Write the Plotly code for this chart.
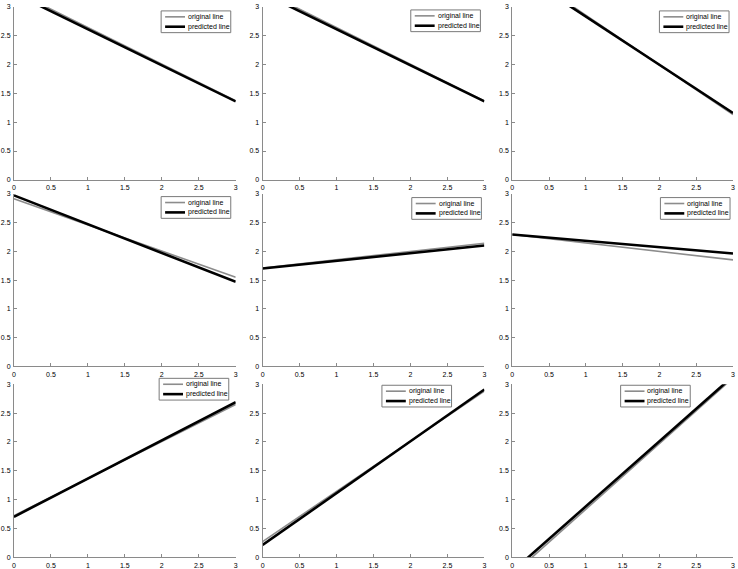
import plotly.graph_objects as go
from plotly.subplots import make_subplots

# ---- data (line end values at x = 0 and x = 3) ----
x_ends = [0, 3]
orig_y0 = [3.28, 3.28, 3.72, 2.91, 1.71, 2.29, 0.72, 0.27, -0.31]
orig_y3 = [1.37, 1.37, 1.13, 1.55, 2.14, 1.85, 2.65, 2.88, 3.11]
pred_y0 = [3.24, 3.24, 3.67, 2.97, 1.70, 2.29, 0.70, 0.21, -0.25]
pred_y3 = [1.36, 1.36, 1.16, 1.47, 2.10, 1.96, 2.69, 2.91, 3.14]
tick_vals = [0, 0.5, 1, 1.5, 2, 2.5, 3]
tick_text = ["0", "0.5", "1", "1.5", "2", "2.5", "3"]
legend_labels = ["original line", "predicted line"]

W, H = 738, 569
col_px = [(12, 235), (262, 485), (513, 735)]
row_px = [(3, 178), (192, 367), (385, 560)]
# legend box (left, top) in pixels for each panel
legend_px = [(160, 7), (411, 6), (661, 7),
             (160, 195), (412, 196), (662, 196),
             (158, 379), (382, 386), (622, 386)]
LW, LH = 70, 22

FONT = "Liberation Sans, Arial, sans-serif"
fig = make_subplots(rows=3, cols=3)

shapes, annots = [], []
for i in range(9):
    r, c = divmod(i, 3)
    fig.add_trace(go.Scatter(x=x_ends, y=[orig_y0[i], orig_y3[i]], mode="lines",
                             line=dict(color="#8c8c8c", width=1.6),
                             name=legend_labels[0], showlegend=False),
                  row=r + 1, col=c + 1)
    fig.add_trace(go.Scatter(x=x_ends, y=[pred_y0[i], pred_y3[i]], mode="lines",
                             line=dict(color="#000000", width=2.6),
                             name=legend_labels[1], showlegend=False),
                  row=r + 1, col=c + 1)
    n = "" if i == 0 else str(i + 1)
    x0, x1 = col_px[c]
    y0, y1 = row_px[r]
    fig.layout["xaxis" + n].update(domain=[x0 / W, x1 / W])
    fig.layout["yaxis" + n].update(domain=[1 - y1 / H, 1 - y0 / H])

    # manual legend
    lx, ly = legend_px[i]
    shapes.append(dict(type="rect", xref="paper", yref="paper",
                       x0=lx / W, x1=(lx + LW) / W, y0=1 - (ly + LH) / H, y1=1 - ly / H,
                       line=dict(color="#7a7a7a", width=1), fillcolor="white", layer="above"))
    for k, (col, wd) in enumerate([("#8c8c8c", 1.6), ("#000000", 2.6)]):
        yy = ly + 6 + k * 10
        shapes.append(dict(type="line", xref="paper", yref="paper",
                           x0=(lx + 4) / W, x1=(lx + 24) / W, y0=1 - yy / H, y1=1 - yy / H,
                           line=dict(color=col, width=wd), layer="above"))
        annots.append(dict(xref="paper", yref="paper", x=(lx + 25) / W, y=1 - yy / H,
                           text=legend_labels[k], showarrow=False, xanchor="left",
                           yanchor="middle", font=dict(family=FONT, size=7, color="#000")))

axis_common = dict(range=[0, 3], tickvals=tick_vals, ticktext=tick_text,
                   showgrid=False, zeroline=False, showline=True, linecolor="#8a8a8a",
                   linewidth=1, ticks="inside", ticklen=3, tickcolor="#8a8a8a",
                   tickfont=dict(family=FONT, size=7, color="#000"))
fig.update_xaxes(**axis_common, ticklabelstandoff=1)
fig.update_yaxes(**axis_common, ticklabelstandoff=1)

fig.update_layout(width=W, height=H, margin=dict(l=0, r=0, t=0, b=0),
                  plot_bgcolor="white", paper_bgcolor="white",
                  shapes=shapes, annotations=annots, showlegend=False)
fig.write_html("out.html", config={"displayModeBar": False},
               post_script="document.body.style.margin='0';document.body.style.overflow='hidden';")
